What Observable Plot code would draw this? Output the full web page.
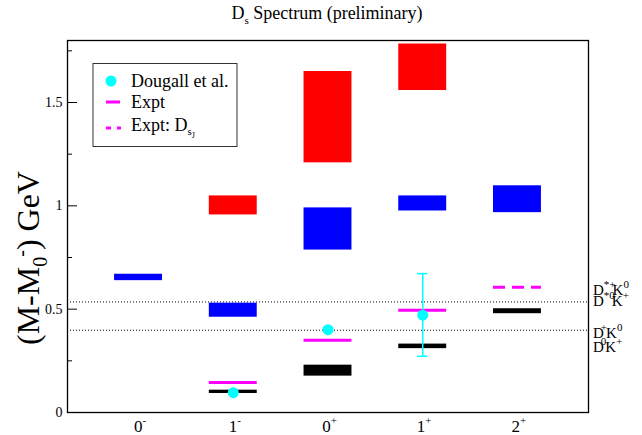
<!DOCTYPE html>
<html><head><meta charset="utf-8">
<script src="https://cdn.jsdelivr.net/npm/d3@7"></script>
<script src="https://cdn.jsdelivr.net/npm/@observablehq/plot@0.6"></script>
<style>
body{margin:0;background:#fff}
#chart svg{font-family:"Liberation Serif","Times New Roman",serif;background:#fff}
</style>
</head><body><div id="chart"></div>
<script>
// ---- data ----
const statePos = [1, 2, 3, 4, 5];
const stateBase = ["0", "1", "0", "1", "2"];
const stateSup = ["-", "-", "+", "+", "+"];
const halfWidth = 0.253;

const blueState = [1, 2, 3, 4, 5];
const blueLo = [0.638, 0.461, 0.786, 0.975, 0.967];
const blueHi = [0.669, 0.529, 0.990, 1.048, 1.097];

const redState = [2, 3, 4];
const redLo = [0.956, 1.208, 1.558];
const redHi = [1.048, 1.650, 1.783];

const blackState = [2, 3, 4, 5];
const blackLo = [0.092, 0.176, 0.309, 0.478];
const blackHi = [0.108, 0.229, 0.331, 0.502];

const exptState = [2, 3, 4];
const exptVal = [0.145, 0.350, 0.495];

const dsjState = [5];
const dsjVal = [0.606];

const dougState = [2, 3, 4];
const dougVal = [0.096, 0.401, 0.471];
const errState = [4];
const errLo = [0.272];
const errHi = [0.672];

const thresholds = [0.535, 0.398];
// threshold labels: [meson1, sup1, meson2, sup2]
const thrLabels = [
  [["D", "*+", "K", "0"], ["D", "*0", "K", "+"]],
  [["D", "+", "K", "0"], ["D", "0", "K", "+"]]
];

const yMajor = [0, 0.5, 1, 1.5];
const yMinor = [0.25, 0.75, 1.25, 1.75];
const yLabels = ["0", "0.5", "1", "1.5"];

const titleMain = "D";
const titleSub = "s";
const titleRest = " Spectrum (preliminary)";
const legendLabels = ["Dougall et al.", "Expt", "Expt: D"];

// ---- build tables ----
const bars = [
  ...blueState.map((s, i) => ({s, lo: blueLo[i], hi: blueHi[i], c: "#0000ff"})),
  ...redState.map((s, i) => ({s, lo: redLo[i], hi: redHi[i], c: "#ff0000"})),
  ...blackState.map((s, i) => ({s, lo: blackLo[i], hi: blackHi[i], c: "#000000"}))
];
const expt = exptState.map((s, i) => ({s, v: exptVal[i]}));
const dsj = dsjState.map((s, i) => ({s, v: dsjVal[i]}));
const doug = dougState.map((s, i) => ({s, v: dougVal[i]}));
const errs = errState.map((s, i) => ({s, lo: errLo[i], hi: errHi[i]}));

const chart = Plot.plot({
  width: 642, height: 435,
  marginLeft: 67, marginRight: 54, marginTop: 40, marginBottom: 23,
  style: {fontFamily: "Liberation Serif, serif", background: "#fff"},
  x: {domain: [0.25, 5.75], axis: null},
  y: {domain: [0, 1.8], axis: null},
  marks: [
    Plot.ruleY(thresholds, {stroke: "#000", strokeWidth: 1, strokeDasharray: "1,2"}),
    Plot.rect(bars, {x1: d => d.s - halfWidth, x2: d => d.s + halfWidth, y1: "lo", y2: "hi", fill: "c"}),
    Plot.ruleY(expt, {y: "v", x1: d => d.s - halfWidth, x2: d => d.s + halfWidth, stroke: "#ff00ff", strokeWidth: 3}),
    Plot.ruleY(dsj, {y: "v", x1: d => d.s - halfWidth, x2: d => d.s + halfWidth, stroke: "#ff00ff", strokeWidth: 3, strokeDasharray: "12,7"}),
    Plot.ruleX(errs, {x: "s", y1: "lo", y2: "hi", stroke: "#00ffff", strokeWidth: 1.5}),
    Plot.ruleY(errs, {y: "lo", x1: d => d.s - 0.055, x2: d => d.s + 0.055, stroke: "#00ffff", strokeWidth: 1.5}),
    Plot.ruleY(errs, {y: "hi", x1: d => d.s - 0.055, x2: d => d.s + 0.055, stroke: "#00ffff", strokeWidth: 1.5}),
    Plot.dot(doug, {x: "s", y: "v", r: 5.5, fill: "#00ffff", stroke: "none"}),
    Plot.axisY({ticks: yMajor, tickSize: -10, fill: "none", stroke: "#000", label: null}),
    Plot.axisY({ticks: yMinor, tickSize: -5, fill: "none", stroke: "#000", label: null}),
    Plot.axisY({ticks: yMajor, tickSize: 0, tickPadding: 5, fontSize: 14, fill: "#000", label: null,
      tickFormat: d => yLabels[yMajor.indexOf(d)]}),
    Plot.frame({stroke: "#000", strokeWidth: 1.3})
  ]
});
document.getElementById("chart").appendChild(chart);

// ---- text with sub/superscripts ----
const svg = d3.select(chart);
const X = v => chart.scale("x").apply(v);
const Y = v => chart.scale("y").apply(v);
const g = svg.append("g").attr("fill", "#000").attr("font-family", "Liberation Serif, serif");

// title
const t = g.append("text").attr("x", 327).attr("y", 19).attr("text-anchor", "middle").attr("font-size", 18);
t.append("tspan").text(titleMain);
t.append("tspan").attr("font-size", 11).attr("dy", 5).text(titleSub);
t.append("tspan").attr("dy", -5).text(titleRest);

// y label
const yl = g.append("text").attr("text-anchor", "middle").attr("font-size", 32)
  .attr("transform", "translate(39,258) rotate(-90)");
yl.append("tspan").text("(M-M");
yl.append("tspan").attr("font-size", 20).attr("dy", 8).text("0");
yl.append("tspan").attr("font-size", 20).attr("dy", -19).text("-");
yl.append("tspan").attr("dy", 11).text(") GeV");

// x tick labels
statePos.forEach((p, i) => {
  const tx = g.append("text").attr("x", X(p) + 2).attr("y", 432).attr("text-anchor", "middle").attr("font-size", 17);
  tx.append("tspan").text(stateBase[i]);
  tx.append("tspan").attr("font-size", 11).attr("dy", -8).text(stateSup[i]);
});

// threshold labels (two stacked lines per threshold)
const rx = X(5.75) + 5;
const lineOffsets = [[-6.5, 4.5], [8.3, 21.8]];
thresholds.forEach((th, k) => {
  thrLabels[k].forEach((parts, j) => {
    const base = Y(th) + lineOffsets[k][j];
    const starred = parts[1].length > 1;
    const tt = g.append("text").attr("x", rx).attr("y", base).attr("font-size", 15).attr("text-anchor", "start");
    tt.append("tspan").text(parts[0]);
    tt.append("tspan").attr("font-size", 11).attr("dy", -7).attr("dx", starred ? 0 : -3).text(parts[1]);
    tt.append("tspan").attr("dy", 7).attr("dx", starred ? -3 : -1).text(parts[2]);
    tt.append("tspan").attr("font-size", 11).attr("dy", -7).text(parts[3]);
  });
});

// legend
const lg = svg.append("g");
lg.append("rect").attr("x", 93).attr("y", 63.5).attr("width", 144).attr("height", 83)
  .attr("fill", "#fff").attr("stroke", "#333").attr("stroke-width", 1);
lg.append("circle").attr("cx", 111).attr("cy", 81).attr("r", 5.5).attr("fill", "#00ffff");
lg.append("line").attr("x1", 106).attr("x2", 120).attr("y1", 102).attr("y2", 102)
  .attr("stroke", "#ff00ff").attr("stroke-width", 3);
lg.append("line").attr("x1", 106).attr("x2", 121).attr("y1", 128).attr("y2", 128)
  .attr("stroke", "#ff00ff").attr("stroke-width", 3).attr("stroke-dasharray", "5,6");
const lt = lg.append("g").attr("font-size", 18).attr("font-family", "Liberation Serif, serif")
  .attr("fill", "#000").attr("text-anchor", "start");
lt.append("text").attr("x", 131).attr("y", 87).text(legendLabels[0]);
lt.append("text").attr("x", 131).attr("y", 108).text(legendLabels[1]);
const l3 = lt.append("text").attr("x", 131).attr("y", 131);
l3.append("tspan").text(legendLabels[2]);
l3.append("tspan").attr("font-size", 11).attr("dy", 4).text("s");
l3.append("tspan").attr("font-size", 8).attr("dy", 3).text("J");
</script>
</body></html>
